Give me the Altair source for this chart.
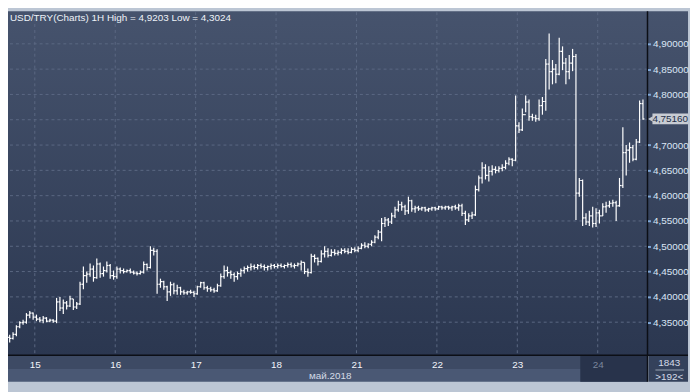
import altair as alt
import pandas as pd

# ---- data (USD/TRY, 1H bars) ----
high = [
    4.325, 4.330, 4.344, 4.352, 4.355, 4.368, 4.372, 4.369,
    4.365, 4.360, 4.362, 4.360, 4.357, 4.356, 4.398, 4.400, 4.395, 4.392, 4.402, 4.396, 4.390, 4.430, 4.460, 4.450,
    4.466, 4.462, 4.476, 4.468, 4.460, 4.470, 4.465, 4.452,
    4.460, 4.458, 4.456, 4.454, 4.456, 4.452, 4.450, 4.452, 4.470, 4.466, 4.500, 4.497, 4.494, 4.436, 4.432, 4.422,
    4.430, 4.428, 4.424, 4.420, 4.414, 4.412, 4.414, 4.412,
    4.422, 4.430, 4.430, 4.422, 4.420, 4.418, 4.426, 4.446, 4.462, 4.460, 4.452, 4.448, 4.450, 4.456, 4.460, 4.462,
    4.466, 4.464, 4.465, 4.466, 4.464, 4.462, 4.466, 4.465,
    4.466, 4.466, 4.464, 4.468, 4.468, 4.466, 4.468, 4.472, 4.468, 4.456, 4.485, 4.484, 4.478, 4.492, 4.500, 4.496,
    4.494, 4.494, 4.492, 4.496, 4.496, 4.496, 4.498, 4.498,
    4.500, 4.506, 4.508, 4.506, 4.512, 4.522, 4.532, 4.556, 4.558, 4.556, 4.566, 4.578, 4.590, 4.588, 4.582, 4.598,
    4.592, 4.580, 4.580, 4.578, 4.578, 4.576, 4.578, 4.578,
    4.580, 4.580, 4.580, 4.580, 4.580, 4.582, 4.584, 4.584, 4.570, 4.565, 4.568, 4.620, 4.640, 4.666, 4.662, 4.658,
    4.660, 4.658, 4.658, 4.662, 4.670, 4.676, 4.674, 4.798,
    4.745, 4.772, 4.798, 4.790, 4.762, 4.760, 4.790, 4.795, 4.870, 4.9203, 4.868, 4.860, 4.912, 4.895, 4.872, 4.878,
    4.890, 4.880, 4.635, 4.632, 4.565, 4.570, 4.578, 4.575,
    4.572, 4.585, 4.588, 4.590, 4.592, 4.590, 4.635, 4.735, 4.700, 4.705, 4.700, 4.712, 4.788, 4.790,
]
low = [
    4.310, 4.316, 4.322, 4.338, 4.345, 4.347, 4.358, 4.355,
    4.352, 4.350, 4.348, 4.350, 4.350, 4.349, 4.348, 4.372, 4.366, 4.375, 4.380, 4.374, 4.376, 4.384, 4.415, 4.428,
    4.440, 4.430, 4.436, 4.438, 4.440, 4.448, 4.436, 4.434,
    4.436, 4.446, 4.446, 4.448, 4.446, 4.444, 4.442, 4.444, 4.446, 4.452, 4.456, 4.482, 4.406, 4.418, 4.414, 4.392,
    4.402, 4.405, 4.404, 4.404, 4.404, 4.404, 4.406, 4.400,
    4.404, 4.418, 4.414, 4.410, 4.410, 4.408, 4.410, 4.420, 4.436, 4.440, 4.436, 4.430, 4.434, 4.440, 4.446, 4.450,
    4.452, 4.454, 4.454, 4.456, 4.452, 4.452, 4.454, 4.456,
    4.456, 4.458, 4.456, 4.458, 4.458, 4.456, 4.460, 4.452, 4.445, 4.440, 4.446, 4.468, 4.462, 4.468, 4.478, 4.478,
    4.480, 4.482, 4.482, 4.484, 4.486, 4.484, 4.486, 4.488,
    4.488, 4.494, 4.496, 4.496, 4.500, 4.506, 4.514, 4.510, 4.538, 4.540, 4.544, 4.556, 4.568, 4.570, 4.562, 4.564,
    4.568, 4.566, 4.570, 4.570, 4.568, 4.568, 4.570, 4.570,
    4.572, 4.572, 4.572, 4.572, 4.570, 4.572, 4.570, 4.560, 4.542, 4.548, 4.554, 4.560, 4.608, 4.624, 4.632, 4.628,
    4.640, 4.644, 4.646, 4.648, 4.652, 4.660, 4.658, 4.668,
    4.724, 4.728, 4.765, 4.748, 4.748, 4.746, 4.748, 4.760, 4.768, 4.810, 4.820, 4.822, 4.838, 4.848, 4.820, 4.830,
    4.846, 4.552, 4.598, 4.540, 4.542, 4.540, 4.537, 4.538,
    4.545, 4.560, 4.566, 4.576, 4.578, 4.550, 4.578, 4.615, 4.640, 4.665, 4.668, 4.670, 4.704, 4.750,
]
close = [
    4.318, 4.326, 4.341, 4.349, 4.350, 4.364, 4.368, 4.360,
    4.356, 4.354, 4.358, 4.352, 4.354, 4.352, 4.390, 4.378, 4.388, 4.382, 4.396, 4.380, 4.386, 4.425, 4.442, 4.445,
    4.455, 4.438, 4.465, 4.446, 4.452, 4.462, 4.442, 4.440,
    4.455, 4.452, 4.450, 4.452, 4.449, 4.447, 4.446, 4.449, 4.464, 4.458, 4.492, 4.490, 4.425, 4.430, 4.420, 4.410,
    4.424, 4.412, 4.418, 4.410, 4.408, 4.410, 4.409, 4.406,
    4.420, 4.428, 4.418, 4.416, 4.414, 4.412, 4.422, 4.440, 4.452, 4.448, 4.444, 4.440, 4.446, 4.452, 4.456, 4.458,
    4.460, 4.458, 4.462, 4.460, 4.458, 4.460, 4.462, 4.460,
    4.462, 4.460, 4.462, 4.464, 4.461, 4.462, 4.465, 4.468, 4.450, 4.448, 4.480, 4.476, 4.470, 4.485, 4.490, 4.482,
    4.488, 4.486, 4.488, 4.492, 4.490, 4.488, 4.494, 4.492,
    4.496, 4.502, 4.500, 4.504, 4.508, 4.518, 4.528, 4.545, 4.552, 4.548, 4.560, 4.572, 4.582, 4.578, 4.570, 4.590,
    4.574, 4.576, 4.574, 4.576, 4.572, 4.574, 4.576, 4.574,
    4.578, 4.576, 4.578, 4.576, 4.578, 4.576, 4.580, 4.565, 4.552, 4.560, 4.562, 4.612, 4.635, 4.655, 4.640, 4.648,
    4.652, 4.650, 4.654, 4.656, 4.664, 4.672, 4.670, 4.738,
    4.730, 4.760, 4.785, 4.756, 4.754, 4.752, 4.778, 4.786, 4.860, 4.845, 4.850, 4.840, 4.885, 4.862, 4.845, 4.862,
    4.875, 4.605, 4.630, 4.556, 4.548, 4.560, 4.545, 4.566,
    4.560, 4.578, 4.580, 4.585, 4.586, 4.580, 4.620, 4.685, 4.690, 4.695, 4.672, 4.706, 4.782, 4.7516,
]
first_open = 4.320

day_labels = ["15", "16", "17", "18", "21", "22", "23", "24"]
day_start_bar = [7.5, 31.5, 55.5, 79.5, 103.5, 127.5, 151.5, 175.5]
price_ticks = [4.35, 4.40, 4.45, 4.50, 4.55, 4.60, 4.65, 4.70, 4.75, 4.80, 4.85, 4.90]
month_label = "май.2018"
title_text = "USD/TRY(Charts) 1H High = 4,9203 Low = 4,3024"
last_price_text = "4,75160"
bar_count_text = "1843"
visible_bars_text = ">192<"

# ---- build table ----
n = min(len(high), len(low), len(close))
opens = [first_open] + close[: n - 1]
df = pd.DataFrame({
    "i": list(range(n)),
    "o": opens[:n],
    "h": high[:n],
    "l": low[:n],
    "c": close[:n],
})
last_close = close[n - 1]
# the price box hides the axis label it sits on
labelled_ticks = [p for p in price_ticks if abs(p - last_close) > 0.02]

W, H = 647, 347
FONT = "Liberation Sans"
xs = alt.Scale(domain=[-0.5, W / 3.39 - 0.5], nice=False, zero=False)
ys = alt.Scale(domain=[4.2848, 4.9625], nice=False, zero=False)

xaxis = alt.Axis(
    values=day_start_bar,
    labelExpr="[" + ",".join("'" + s + "'" for s in day_labels) + "][round((datum.value-7.5)/24)]",
    grid=False, ticks=False, domain=False, title=None,
    labelFont=FONT, labelFontSize=10,
    labelColor=alt.condition("datum.value > 170", alt.value("#7a869c"), alt.value("#f2f5fa")),
    labelPadding=4, labelOverlap=False, labelFlush=False, zindex=1,
)
yaxis = alt.Axis(
    orient="right", values=labelled_ticks,
    labelExpr="replace(format(datum.value, '.5f'), '.', ',')",
    grid=False, domain=False, ticks=True, tickSize=3, tickWidth=2, tickColor="#7fa8d8",
    title=None, labelFont=FONT, labelFontSize=10, labelColor="#dbe6f5",
    labelPadding=2, labelOverlap=False, labelFlush=False, zindex=1,
)

one = pd.DataFrame({"a": [0]})
base1 = alt.Chart(one)

# panel background (gradient)
bg = base1.mark_rect(
    fill=alt.LinearGradient(
        gradient="linear",
        stops=[alt.GradientStop(color="#46536d", offset=0),
               alt.GradientStop(color="#2b3750", offset=1)],
        x1=0, x2=0, y1=0, y2=1,
    )
).encode(x=alt.value(0), x2=alt.value(688), y=alt.value(-1), y2=alt.value(H))

band1 = base1.mark_rect(color="#3d4a64").encode(
    x=alt.value(0), x2=alt.value(W), y=alt.value(H), y2=alt.value(H + 14))
band2 = base1.mark_rect(color="#4a5874").encode(
    x=alt.value(0), x2=alt.value(W), y=alt.value(H + 14), y2=alt.value(H + 27))
shade24 = base1.mark_rect(color="#28334b").encode(
    x=alt.value(579), x2=alt.value(W), y=alt.value(H), y2=alt.value(H + 27))
box = base1.mark_rect(color="#34415b").encode(
    x=alt.value(W + 1), x2=alt.value(688), y=alt.value(H), y2=alt.value(H + 27))

# grid (dashed); these layers carry the axes
vgrid = alt.Chart(pd.DataFrame({"d": day_start_bar})).mark_rule(
    color="#5b6883", strokeDash=[3, 3], strokeWidth=1
).encode(x=alt.X("d:Q", scale=xs, axis=xaxis))
hgrid = alt.Chart(pd.DataFrame({"p": price_ticks})).mark_rule(
    color="#5b6883", strokeDash=[3, 3], strokeWidth=1
).encode(y=alt.Y("p:Q", scale=ys, axis=yaxis))

# OHLC bars
base = alt.Chart(df).transform_calculate(il="datum.i - 0.45", ir="datum.i + 0.45")
hl = base.mark_rule(color="white", strokeWidth=1.2).encode(
    x=alt.X("i:Q", scale=xs, axis=xaxis),
    y=alt.Y("l:Q", scale=ys, axis=yaxis), y2="h:Q")
op = base.mark_rule(color="white", strokeWidth=1.2).encode(
    x=alt.X("il:Q", scale=xs, axis=xaxis), x2="i:Q",
    y=alt.Y("o:Q", scale=ys, axis=yaxis))
cl = base.mark_rule(color="white", strokeWidth=1.2).encode(
    x=alt.X("i:Q", scale=xs, axis=xaxis), x2="ir:Q",
    y=alt.Y("c:Q", scale=ys, axis=yaxis))

# separator lines
hline = base1.mark_rule(color="#0c0f16", strokeWidth=1.5).encode(
    x=alt.value(0), x2=alt.value(688), y=alt.value(H))
vline = base1.mark_rule(color="#0c0f16", strokeWidth=1.5).encode(
    x=alt.value(W), y=alt.value(-1), y2=alt.value(H + 27))
boxsep = base1.mark_rule(color="#9aa4b4", strokeWidth=1).encode(
    x=alt.value(W + 8), x2=alt.value(684), y=alt.value(H + 15))

# texts
title = base1.mark_text(align="left", baseline="middle", font=FONT, fontSize=10,
                        color="#eef2f8", text=title_text).encode(
    x=alt.value(2), y=alt.value(6))
month = base1.mark_text(align="center", baseline="middle", font=FONT, fontSize=10,
                        color="#d4dbe7", text=month_label).encode(
    x=alt.value(326), y=alt.value(H + 21))
cnt = base1.mark_text(align="center", baseline="middle", font=FONT, fontSize=10,
                      color="#d4dbe7", text=bar_count_text).encode(
    x=alt.value(669), y=alt.value(H + 8))
vis = base1.mark_text(align="center", baseline="middle", font=FONT, fontSize=10,
                      color="#d4dbe7", text=visible_bars_text).encode(
    x=alt.value(669), y=alt.value(H + 22))

# last price marker
last = df.tail(1)
lastbase = alt.Chart(last)
lbl_box = lastbase.mark_tick(orient="horizontal", size=36, thickness=11, color="#c8ccd3", opacity=1).encode(
    x=alt.value(670), y=alt.Y("c:Q", scale=ys, axis=yaxis))
lbl_arrow = lastbase.mark_point(shape="triangle-left", size=30, filled=True, color="#c8ccd3", opacity=1).encode(
    x=alt.value(650), y=alt.Y("c:Q", scale=ys, axis=yaxis))
lbl_text = lastbase.mark_text(align="center", baseline="middle", font=FONT, fontSize=10,
                              color="#1f2f48", text=last_price_text).encode(
    x=alt.value(670), y=alt.Y("c:Q", scale=ys, axis=yaxis))

chart = alt.layer(
    bg, band1, band2, shade24, box, vgrid, hgrid, hl, op, cl,
    hline, vline, boxsep, title, month, cnt, vis, lbl_box, lbl_arrow, lbl_text,
).properties(
    width=W, height=H,
    autosize=alt.AutoSizeParams(type="none"),
    padding={"left": 0, "top": 2, "right": 43, "bottom": 35},
).configure(background="#bcc6d4").configure_view(stroke=None)

chart.save("out.html", embed_options={"renderer": "svg", "actions": False})
